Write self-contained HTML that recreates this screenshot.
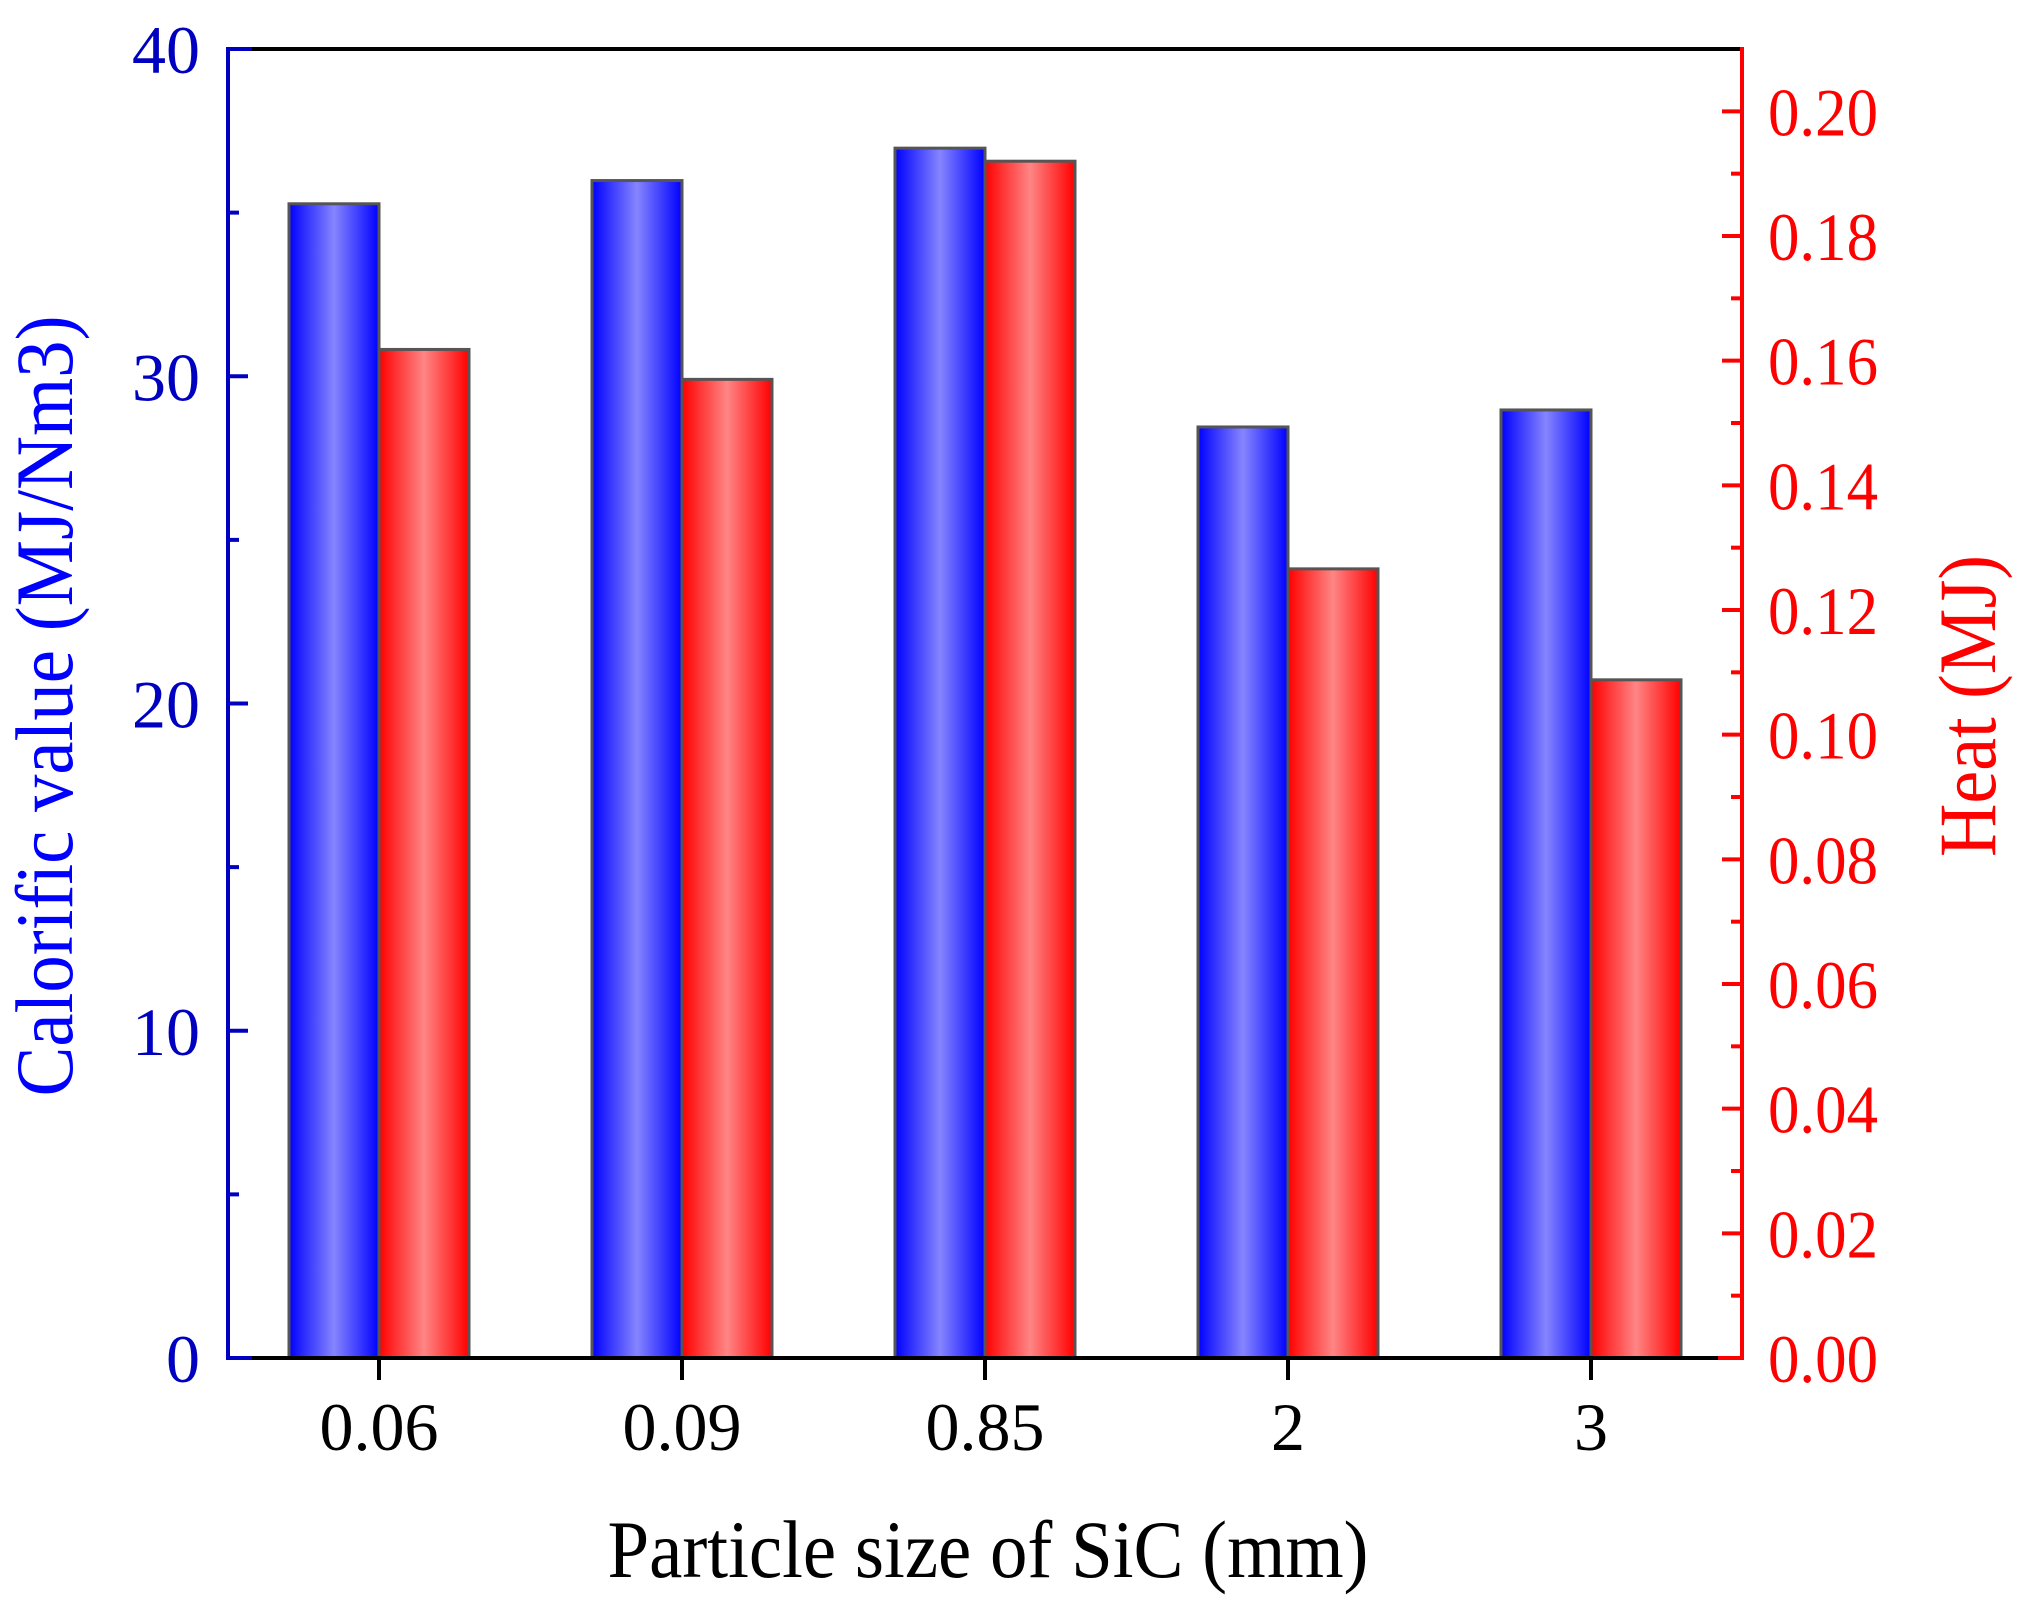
<!DOCTYPE html>
<html><head><meta charset="utf-8"><style>
html,body{margin:0;padding:0;background:#fff;}
svg{display:block;font-family:"Liberation Serif",serif;}
</style></head><body>
<svg id="chart" width="2020" height="1608" viewBox="0 0 2020 1608" xmlns="http://www.w3.org/2000/svg">
<defs>
<linearGradient id="gb" x1="0" x2="1" y1="0" y2="0"><stop offset="0" stop-color="#0000ff"/><stop offset="0.5" stop-color="#8585ff"/><stop offset="1" stop-color="#0000ff"/></linearGradient>
<linearGradient id="gr" x1="0" x2="1" y1="0" y2="0"><stop offset="0" stop-color="#ff0000"/><stop offset="0.5" stop-color="#ff8585"/><stop offset="1" stop-color="#ff0000"/></linearGradient>
</defs>
<g id="bars"></g>
<g id="axes"></g>
<text x="988" y="1577" font-size="82" text-anchor="middle" fill="#000" textLength="761" lengthAdjust="spacingAndGlyphs">Particle size of SiC (mm)</text>
<text transform="translate(72,706) rotate(-90)" font-size="82" text-anchor="middle" fill="#0000ff" textLength="781" lengthAdjust="spacingAndGlyphs">Calorific value (MJ/Nm3)</text>
<text transform="translate(1995,706) rotate(-90)" font-size="82" text-anchor="middle" fill="#ff0000" textLength="302" lengthAdjust="spacingAndGlyphs">Heat (MJ)</text>
</svg>
<script>
const categories = ["0.06","0.09","0.85","2","3"];
const calorific = [35.27, 35.98, 36.97, 28.45, 28.97];
const heat = [0.1618, 0.157, 0.192, 0.1266, 0.1088];
const leftTicks = [0,10,20,30,40];
const rightTicks = ["0.00","0.02","0.04","0.06","0.08","0.10","0.12","0.14","0.16","0.18","0.20"];

const X0=228, X1=1742, Y0=1358, Y1=49;
const step=303, first=379, bw=90;
const yL = v => Y0 - (v/40)*(Y0-Y1);
const yR = v => Y0 - (v/0.21)*(Y0-Y1);
const xC = i => first + i*step;
const NS="http://www.w3.org/2000/svg";
function mk(tag, attrs, parent){const e=document.createElementNS(NS,tag);for(const k in attrs)e.setAttribute(k,attrs[k]);parent.appendChild(e);return e;}
const bars=document.getElementById('bars'), axes=document.getElementById('axes');

categories.forEach((c,i)=>{
  const cx=xC(i);
  const b=mk('rect',{x:cx-bw,y:yL(calorific[i]),width:bw,height:Y0-yL(calorific[i]),fill:'url(#gb)',stroke:'#555',"stroke-width":3},bars);
  
  
  const r=mk('rect',{x:cx,y:yR(heat[i]),width:bw,height:Y0-yR(heat[i]),fill:'url(#gr)',stroke:'#555',"stroke-width":3},bars);
  
  
  const t=mk('line',{x1:cx,x2:cx,y1:Y0,y2:Y0+22,stroke:'#000',"stroke-width":4},axes);
  
  
  const l=mk('text',{x:cx,y:1450,"font-size":68,"text-anchor":"middle",fill:'#000'},axes);
  l.textContent=c;
  
  
});

mk('line',{x1:X0,x2:X1,y1:Y1,y2:Y1,stroke:'#000',"stroke-width":4},axes);
mk('line',{x1:X0,x2:X1,y1:Y0,y2:Y0,stroke:'#000',"stroke-width":4},axes);
mk('line',{x1:X0,x2:X0+24,y1:Y1,y2:Y1,stroke:'#0000c0',"stroke-width":4},axes);
mk('line',{x1:X0,x2:X0+24,y1:Y0,y2:Y0,stroke:'#0000c0',"stroke-width":4},axes);
mk('line',{x1:X1-24,x2:X1,y1:Y0,y2:Y0,stroke:'#ff0000',"stroke-width":4},axes);
const la=mk('line',{x1:X0,x2:X0,y1:Y1-2,y2:Y0+2,stroke:'#0000c0',"stroke-width":4},axes);


const ra=mk('line',{x1:X1,x2:X1,y1:Y1-2,y2:Y0+2,stroke:'#ff0000',"stroke-width":4},axes);



for(let v=0; v<=40; v+=5){
  const major = v%10===0;
  mk('line',{x1:X0,x2:X0+(major?20:11),y1:yL(v),y2:yL(v),stroke:'#0000c0',"stroke-width":4},axes);
}
leftTicks.forEach(v=>{
  const t=mk('text',{x:200,y:yL(v)+24,"font-size":68,"text-anchor":"end",fill:'#0000c0'},axes);
  t.textContent=v;
  
  
});
for(let k=0;k<=20;k++){
  const v=k*0.01, major=k%2===0;
  mk('line',{x1:X1,x2:X1-(major?20:11),y1:yR(v),y2:yR(v),stroke:'#ff0000',"stroke-width":4},axes);
}
rightTicks.forEach(s=>{
  const t=mk('text',{x:1768,y:yR(parseFloat(s))+24,"font-size":68,"text-anchor":"start",fill:'#ff0000',textLength:110,lengthAdjust:'spacingAndGlyphs'},axes);
  t.textContent=s;
  
  
});
</script>
</body></html>
